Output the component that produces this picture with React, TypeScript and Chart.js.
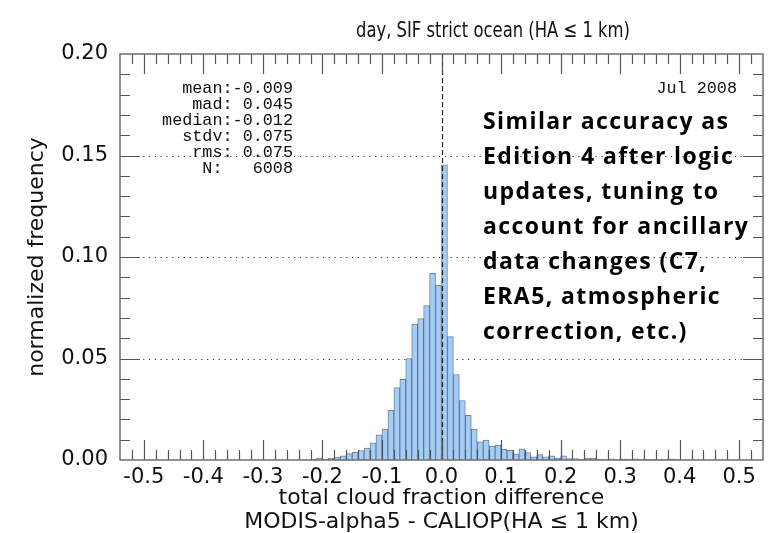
import React, { useEffect, useRef } from 'react';
import { Chart, registerables } from 'chart.js';

Chart.register(...registerables);

// ---- data ----
const binCenters = [
  -0.215, -0.205, -0.195, -0.185, -0.175, -0.165, -0.155, -0.145, -0.135, -0.125,
  -0.115, -0.105, -0.095, -0.085, -0.075, -0.065, -0.055, -0.045, -0.035, -0.025,
  -0.015, -0.005, 0.005, 0.015, 0.025, 0.035, 0.045, 0.055, 0.065, 0.075,
  0.085, 0.095, 0.105, 0.115, 0.125, 0.135, 0.145, 0.155, 0.165, 0.175,
  0.185, 0.195, 0.205, 0.215, 0.225, 0.235, 0.245, 0.255, 0.265, 0.275,
  0.285, 0.295, 0.305, 0.315, 0.325, 0.335, 0.345, 0.355, 0.365, 0.375,
  0.385, 0.395,
];
const frequency = [
  0.0003, 0.0011, 0.0005, 0.0008, 0.0015, 0.002, 0.0032, 0.0038, 0.0046, 0.0059,
  0.0084, 0.0124, 0.0152, 0.0245, 0.0357, 0.0397, 0.05, 0.067, 0.0697, 0.0761,
  0.092, 0.0861, 0.1454, 0.0608, 0.0421, 0.0293, 0.022, 0.0152, 0.009, 0.0098,
  0.0068, 0.0074, 0.0053, 0.0048, 0.0031, 0.0055, 0.0036, 0.0016, 0.0027, 0.0016,
  0.0021, 0.001, 0.002, 0.0007, 0.0007, 0.0005, 0.0008, 0.0009, 0.0005, 0.0003,
  0.0006, 0.0003, 0.0006, 0.0005, 0.0006, 0.0003, 0.0002, 0.0002, 0.0002, 0.0003,
  0.0006, 0.0002,
];
const xTickValues = [-0.5, -0.4, -0.3, -0.2, -0.1, 0, 0.1, 0.2, 0.3, 0.4, 0.5];
const yTickValues = [0, 0.05, 0.1, 0.15, 0.2];
const gridLineValues = [0.05, 0.1, 0.15];
const xRange = [-0.54, 0.54];
const yRange = [0, 0.2];

const titleText = 'day, SIF strict ocean (HA \u2264 1 km)';
const xTitleLines = ['total cloud fraction difference', 'MODIS-alpha5 - CALIOP(HA \u2264 1 km)'];
const yTitleText = 'normalized frequency';
const statLines = ['mean:-0.009', 'mad: 0.045', 'median:-0.012', 'stdv: 0.075', 'rms: 0.075', 'N:   6008'];
const dateText = 'Jul 2008';
const noteLines = [
  'Similar accuracy as',
  'Edition 4 after logic',
  'updates, tuning to',
  'account for ancillary',
  'data changes (C7,',
  'ERA5, atmospheric',
  'correction, etc.)',
];

const FRAME = '#6e6e6e';

const decorPlugin = {
  id: 'decor',
  beforeDatasetsDraw(chart: any) {
    const { ctx, chartArea: a, scales } = chart;
    const y = scales.y;
    ctx.save();
    ctx.strokeStyle = '#333';
    ctx.lineWidth = 1.2;
    ctx.setLineDash([1.2, 4.6]);
    gridLineValues.forEach((v) => {
      const py = Math.round(y.getPixelForValue(v)) + 0.5;
      ctx.beginPath();
      ctx.moveTo(a.left, py);
      ctx.lineTo(a.right, py);
      ctx.stroke();
    });
    ctx.restore();
  },
  afterDatasetsDraw(chart: any) {
    const { ctx, chartArea: a, scales } = chart;
    const x = scales.x;
    const y = scales.y;
    ctx.save();
    // dashed zero line
    ctx.strokeStyle = '#222';
    ctx.lineWidth = 1.2;
    ctx.setLineDash([5, 3]);
    const zx = Math.round(x.getPixelForValue(0)) + 0.5;
    ctx.beginPath();
    ctx.moveTo(zx, a.top);
    ctx.lineTo(zx, a.bottom);
    ctx.stroke();
    ctx.setLineDash([]);

    // ticks
    ctx.strokeStyle = '#555';
    ctx.lineWidth = 1.2;
    for (let k = -26; k <= 26; k++) {
      const v = k / 50;
      const px = Math.round(x.getPixelForValue(v)) + 0.5;
      const major = k % 5 === 0;
      const len = major ? 20 : 10;
      ctx.beginPath();
      ctx.moveTo(px, a.bottom);
      ctx.lineTo(px, a.bottom - len);
      ctx.moveTo(px, a.top);
      ctx.lineTo(px, a.top + len);
      ctx.stroke();
    }
    for (let k = 1; k < 20; k++) {
      const v = k / 100;
      const py = Math.round(y.getPixelForValue(v)) + 0.5;
      const major = k % 5 === 0;
      const len = major ? 20 : 10;
      ctx.beginPath();
      ctx.moveTo(a.left, py);
      ctx.lineTo(a.left + len, py);
      ctx.moveTo(a.right, py);
      ctx.lineTo(a.right - len, py);
      ctx.stroke();
    }
    // frame
    ctx.strokeStyle = FRAME;
    ctx.lineWidth = 1.5;
    ctx.strokeRect(a.left, a.top, a.right - a.left, a.bottom - a.top);

    // title (condensed look: horizontally compressed DejaVu Sans)
    ctx.fillStyle = '#111';
    ctx.textAlign = 'center';
    ctx.textBaseline = 'middle';
    ctx.font = '22px "DejaVu Sans", sans-serif';
    const tw = ctx.measureText(titleText).width;
    const sx = 274 / tw;
    ctx.save();
    ctx.translate(493, 31);
    ctx.scale(sx, 1);
    ctx.fillText(titleText, 0, 0);
    ctx.restore();

    // stats
    ctx.font = '16.8px "Liberation Mono", monospace';
    ctx.textAlign = 'right';
    ctx.textBaseline = 'middle';
    statLines.forEach((s, i) => {
      ctx.fillText(s, 293, 89 + i * 16);
    });
    ctx.fillText(dateText, 737, 89);

    // note
    ctx.font = 'bold 23px "Open Sans", "Noto Sans", sans-serif';
    try { (ctx as any).letterSpacing = '1.4px'; } catch (e) {}
    ctx.textAlign = 'left';
    ctx.fillStyle = '#000';
    noteLines.forEach((s, i) => {
      ctx.fillText(s, 483, 122 + i * 35);
    });
    try { (ctx as any).letterSpacing = '0px'; } catch (e) {}
    ctx.restore();
  },
};

export default function App() {
  const ref = useRef<HTMLCanvasElement | null>(null);
  useEffect(() => {
    if (!ref.current) return;
    const chart = new Chart(ref.current, {
      type: 'bar',
      data: {
        datasets: [
          {
            data: binCenters.map((c, i) => ({ x: c, y: frequency[i] })) as any,
            backgroundColor: '#a2cdf7',
            borderColor: 'rgba(70,88,112,0.75)',
            borderWidth: 1,
            barPercentage: 1,
            categoryPercentage: 1,
          },
        ],
      },
      options: {
        animation: false,
        responsive: false,
        maintainAspectRatio: false,
        layout: { padding: { top: 54, right: 5, left: 0, bottom: 0 } },
        plugins: {
          legend: { display: false },
          tooltip: { enabled: false },
          title: { display: false },
        },
        scales: {
          x: {
            type: 'linear',
            min: xRange[0],
            max: xRange[1],
            offset: false,
            grid: { display: false, drawTicks: false },
            border: { display: false },
            afterBuildTicks: (s: any) => {
              s.ticks = xTickValues.map((v) => ({ value: v }));
            },
            afterFit: (s: any) => {
              s.height = 73;
            },
            ticks: {
              font: { family: 'DejaVu Sans', size: 21 },
              color: '#111',
              padding: 5,
              maxRotation: 0,
              autoSkip: false,
              callback: (v: any) => Number(v).toFixed(1),
            },
            title: {
              display: true,
              text: xTitleLines,
              color: '#111',
              font: { family: 'DejaVu Sans', size: 22, lineHeight: 24 / 22 },
              padding: { top: 0, bottom: -1 },
            },
          },
          y: {
            type: 'linear',
            min: yRange[0],
            max: yRange[1],
            grid: { display: false, drawTicks: false },
            border: { display: false },
            afterBuildTicks: (s: any) => {
              s.ticks = yTickValues.map((v) => ({ value: v }));
            },
            afterFit: (s: any) => {
              s.width = 120;
            },
            ticks: {
              font: { family: 'DejaVu Sans', size: 21 },
              color: '#111',
              padding: 12,
              callback: (v: any) => Number(v).toFixed(2),
            },
            title: {
              display: true,
              text: yTitleText,
              color: '#111',
              font: { family: 'DejaVu Sans', size: 22 },
              padding: { top: 24, bottom: 0 },
            },
          },
        },
      } as any,
      plugins: [decorPlugin],
    });
    return () => chart.destroy();
  }, []);
  return (
    <div style={{ position: 'absolute', left: 0, top: 0, width: 768, height: 533, background: '#fff' }}>
      <canvas ref={ref} width={768} height={533} style={{ width: 768, height: 533, display: 'block' }} />
    </div>
  );
}
